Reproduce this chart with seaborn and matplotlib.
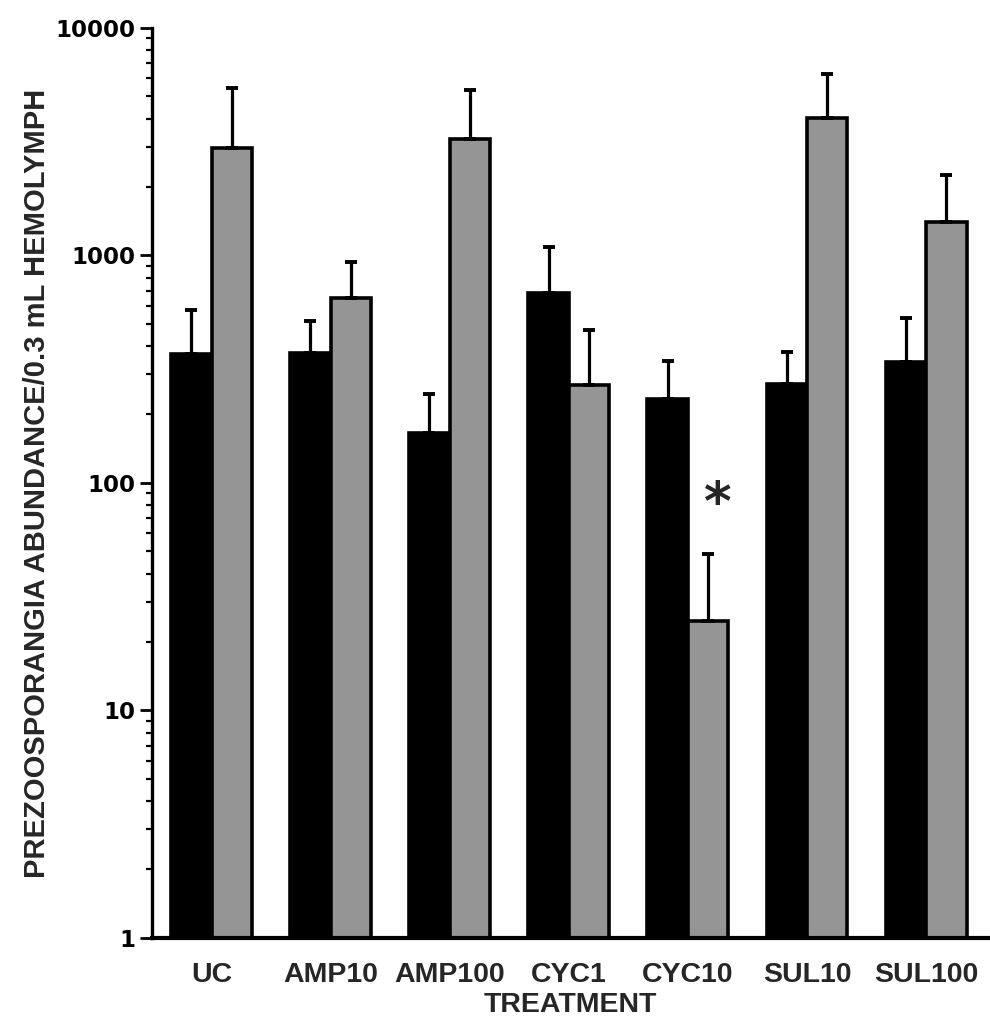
import numpy as np
import pandas as pd
import matplotlib
matplotlib.use("Agg")
import matplotlib.pyplot as plt
import seaborn as sns

# ---- data ----
categories = ['UC', 'AMP10', 'AMP100', 'CYC1', 'CYC10', 'SUL10', 'SUL100']
groups = ['Group 1', 'Group 2']
black_means = [369, 371, 166, 682, 233, 272, 339]
black_upper = [576, 515, 246, 1093, 344, 378, 530]
grey_means = [2966, 652, 3239, 270, 24.8, 4009, 1408]
grey_upper = [5460, 933, 5335, 470, 48.7, 6255, 2259]
yticks = [1, 10, 100, 1000, 10000]
ytick_labels = ['1', '10', '100', '1000', '10000']
star_label = '*'
star_value = 80

df = pd.DataFrame({
    'treatment': categories * 2,
    'abundance': black_means + grey_means,
    'group': [groups[0]] * len(categories) + [groups[1]] * len(categories),
})

sns.set_style('white')
plt.rcParams['font.family'] = ['Liberation Sans', 'DejaVu Sans']

fig = plt.figure(figsize=(9.9, 10.32), dpi=100)
ax = fig.add_axes([0.1535, 0.0911, 0.8445, 0.8818])

sns.barplot(data=df, x='treatment', y='abundance', hue='group',
            order=categories, hue_order=groups,
            palette=['#000000', '#959595'], saturation=1,
            errorbar=None, width=0.68, edgecolor='black', linewidth=2.6,
            legend=False, ax=ax)

ax.set_yscale('log')
ax.set_ylim(1, 10000)
ax.set_xlim(-0.5, 6.52)

# one-sided upper error bars
for cont, means, uppers in zip(ax.containers, [black_means, grey_means],
                               [black_upper, grey_upper]):
    xs = [p.get_x() + p.get_width() / 2 for p in cont.patches]
    m = np.array(means, dtype=float)
    u = np.array(uppers, dtype=float)
    ax.errorbar(xs, m, yerr=[np.zeros_like(m), u - m], fmt='none',
                ecolor='black', elinewidth=2.3, capsize=4.5, capthick=2.8,
                zorder=1)

# significance asterisk over CYC10 second bar
ax.text(categories.index('CYC10') + 0.25, star_value, star_label,
        ha='center', va='center', fontsize=38, fontweight='bold',
        family=['DejaVu Sans'])

for s in ['top', 'right']:
    ax.spines[s].set_visible(False)
ax.spines['left'].set_linewidth(2.4)
ax.spines['bottom'].set_linewidth(3)
ax.spines['left'].set_color('black')
ax.spines['bottom'].set_color('black')

ax.set_yticks(yticks)
ax.set_yticklabels(ytick_labels, fontsize=16.5, fontweight='bold',
                   family=['DejaVu Sans'])
ax.tick_params(axis='y', which='major', direction='out', length=9, width=2,
               pad=3, left=True, colors='black')
ax.tick_params(axis='y', which='minor', direction='out', length=4.5, width=1.6,
               left=True, colors='black')
ax.tick_params(axis='x', length=0, pad=17)
for lbl in ax.get_xticklabels():
    lbl.set_fontsize(20.5)
    lbl.set_fontweight('bold')

ax.set_xlabel('TREATMENT', fontsize=20.5, fontweight='bold', labelpad=3)
ax.set_ylabel('PREZOOSPORANGIA ABUNDANCE/0.3 mL HEMOLYMPH', fontsize=21,
              fontweight='bold', labelpad=3)

fig.savefig('out.png', dpi=100)
